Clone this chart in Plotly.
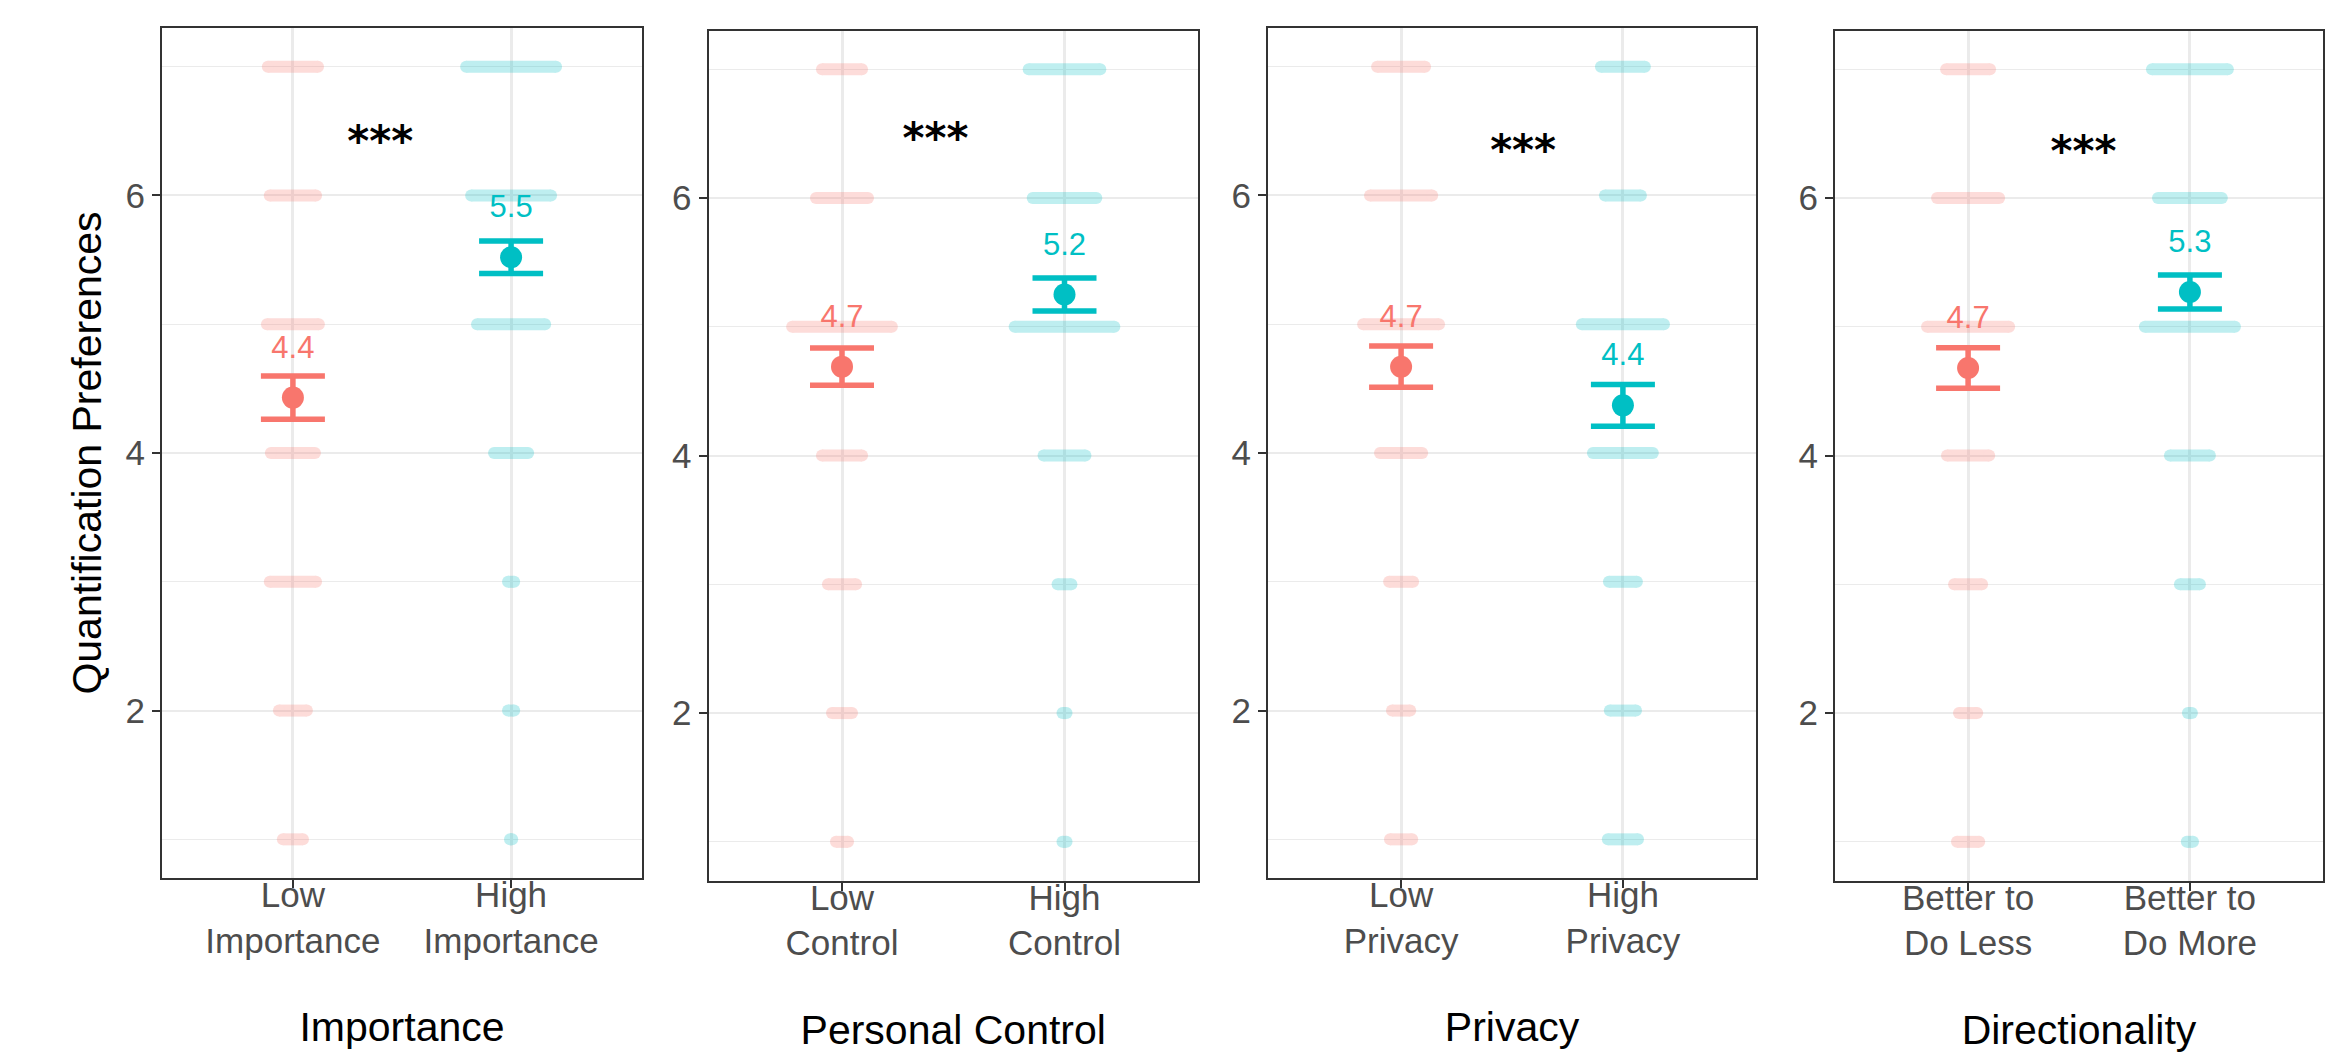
import plotly.graph_objects as go

# ---------------- data ----------------
factors = ["Importance", "Personal Control", "Privacy", "Directionality"]
low_labels = ["Low<br>Importance", "Low<br>Control", "Low<br>Privacy", "Better to<br>Do Less"]
high_labels = ["High<br>Importance", "High<br>Control", "High<br>Privacy", "Better to<br>Do More"]

mean_low = [4.43, 4.69, 4.67, 4.68]
ci_low = [0.167, 0.145, 0.160, 0.157]
mean_high = [5.52, 5.25, 4.37, 5.27]
ci_high = [0.126, 0.128, 0.162, 0.132]
mean_low_text = ["4.4", "4.7", "4.7", "4.7"]
mean_high_text = ["5.5", "5.2", "4.4", "5.3"]

sig_text = ["***", "***", "***", "***"]
sig_x = [1.40, 1.42, 1.55, 1.52]
sig_y = [6.39, 6.43, 6.32, 6.33]

levels = [1, 2, 3, 4, 5, 6, 7]
# horizontal spread (half-width, category units) of the jittered raw responses at each level
spread_low = [
    [0.046, 0.064, 0.106, 0.101, 0.119, 0.106, 0.115],
    [0.027, 0.045, 0.063, 0.090, 0.224, 0.117, 0.090],
    [0.050, 0.041, 0.054, 0.095, 0.171, 0.140, 0.108],
    [0.050, 0.041, 0.063, 0.095, 0.185, 0.140, 0.099],
]
spread_high = [
    [0.005, 0.014, 0.014, 0.078, 0.156, 0.183, 0.206],
    [0.009, 0.009, 0.031, 0.094, 0.224, 0.143, 0.161],
    [0.068, 0.059, 0.063, 0.135, 0.185, 0.081, 0.099],
    [0.014, 0.009, 0.045, 0.090, 0.203, 0.144, 0.171],
]

y_title = "Quantification Preferences"
y_ticks = [2, 4, 6]
y_minor = [1, 3, 5, 7]

# ---------------- style ----------------
RED = "#F8766D"
CYAN = "#00BFC4"
FONT = "Liberation Sans, Arial, Helvetica, sans-serif"
W, H = 2352, 1052
panel_x = [(154, 634), (700.5, 1190), (1260, 1748), (1827, 2315)]
panel_y = [(20, 870), (22.5, 872.5), (20, 870), (22.5, 872.5)]

fig = go.Figure()


def band_xy(center, spreads):
    xs, ys = [], []
    for lv, s in zip(levels, spreads):
        xs += [center - s, center + s, None]
        ys += [lv, lv, None]
    return xs, ys


for i in range(4):
    sfx = "" if i == 0 else str(i + 1)
    xa, ya = "x" + sfx, "y" + sfx
    for center, spreads, col in [(1, spread_low[i], RED), (2, spread_high[i], CYAN)]:
        bx, by = band_xy(center, spreads)
        fig.add_trace(go.Scatter(
            x=bx, y=by, mode="lines+markers", xaxis=xa, yaxis=ya,
            line=dict(color=col, width=12),
            marker=dict(color=col, size=12, line=dict(width=0)),
            opacity=0.25, hoverinfo="skip", showlegend=False))
    for center, m, c, t, col in [(1, mean_low[i], ci_low[i], mean_low_text[i], RED),
                                 (2, mean_high[i], ci_high[i], mean_high_text[i], CYAN)]:
        fig.add_trace(go.Scatter(
            x=[center], y=[m], mode="markers", xaxis=xa, yaxis=ya,
            marker=dict(color=col, size=22, line=dict(width=0)),
            error_y=dict(type="data", array=[c], symmetric=True, color=col,
                         thickness=5.5, width=32),
            showlegend=False))
        fig.add_trace(go.Scatter(
            x=[center], y=[m + 0.37], mode="text", text=[t], xaxis=xa, yaxis=ya,
            textposition="middle center",
            textfont=dict(family=FONT, size=31, color=col), showlegend=False,
            hoverinfo="skip"))
    fig.add_trace(go.Scatter(
        x=[sig_x[i]], y=[sig_y[i]], mode="text", text=[sig_text[i]], xaxis=xa, yaxis=ya,
        textposition="middle center",
        textfont=dict(family="DejaVu Sans", size=42, color="black", weight="bold"),
        showlegend=False, hoverinfo="skip"))

    x0, x1 = panel_x[i]
    y0, y1 = panel_y[i]
    fig.update_layout(**{
        "xaxis" + sfx: dict(
            domain=[x0 / W, x1 / W], anchor=ya, range=[0.4, 2.6],
            tickvals=[1, 2], ticktext=[low_labels[i], high_labels[i]],
            ticks="outside", ticklen=8, tickwidth=2, tickcolor="#333333",
            ticklabelstandoff=-23,
            tickfont=dict(family=FONT, size=35, color="#4D4D4D"),
            showgrid=True, gridcolor="#EBEBEB", gridwidth=3,
            showline=True, mirror=True, linecolor="#333333", linewidth=2,
            zeroline=False,
            title=dict(text=factors[i], font=dict(family=FONT, size=41, color="black"),
                       standoff=54)),
        "yaxis" + sfx: dict(
            domain=[1 - y1 / H, 1 - y0 / H], anchor=xa, range=[0.7, 7.3],
            tickvals=y_ticks, ticktext=[str(v) for v in y_ticks],
            ticks="outside", ticklen=8, tickwidth=2, tickcolor="#333333",
            tickfont=dict(family=FONT, size=35, color="#4D4D4D"),
            showgrid=True, gridcolor="#EBEBEB", gridwidth=2,
            minor=dict(tickvals=y_minor, showgrid=True, gridcolor="#EBEBEB",
                       gridwidth=1, ticks=""),
            showline=True, mirror=True, linecolor="#333333", linewidth=2,
            zeroline=False,
            title=dict(text=y_title if i == 0 else "",
                       font=dict(family=FONT, size=41, color="black"), standoff=11)),
    })

fig.update_layout(
    width=W, height=H, margin=dict(l=0, r=0, t=0, b=0),
    paper_bgcolor="white", plot_bgcolor="white", showlegend=False,
)

fig.write_html("out.html")
